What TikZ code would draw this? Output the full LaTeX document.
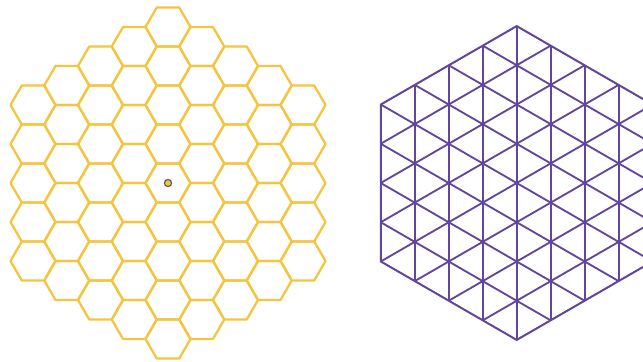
\documentclass[tikz,border=0pt]{standalone}
\usepackage{xcolor}
\usepackage{tikz}

\definecolor{honey}{RGB}{245,196,64}
\definecolor{grape}{RGB}{98,70,158}

\begin{document}
\begin{tikzpicture}[
    x=0.35mm, y=-0.35mm,
    hexcell/.style={draw=honey, line width=0.8mm, line join=round},
    trigrid/.style={draw=grape, line width=0.65mm},
    pivot/.style={circle, draw=black!65, fill=honey, line width=0.4mm,
                  inner sep=0pt, minimum size=2.5mm},
]
  \useasboundingbox (0,0) rectangle (643,362);
  \clip (0,0) rectangle (643,362);

  % honeycomb, flat-top cells, 4 rings round the middle
  \foreach \q in {-4,...,4} {
    \pgfmathtruncatemacro{\rlo}{max(-4,-\q-4)}
    \pgfmathtruncatemacro{\rhi}{min(4,-\q+4)}
    \foreach \r in {\rlo,...,\rhi} {
      \draw[hexcell] (168+33.75*\q, 183+39*\r+19.5*\q)
        +(0:22.5) -- +(60:22.5) -- +(120:22.5) -- +(180:22.5)
        -- +(240:22.5) -- +(300:22.5) -- cycle;
    }
  }
  \node[pivot] (hub) at (168,183) {};

  % triangular grid inside a pointy-top hexagon
  \coordinate (mid) at (516.7,183);
  \begin{scope}
    \clip (mid) +(90:157) -- +(150:157) -- +(210:157) -- +(270:157)
      -- +(330:157) -- +(30:157) -- cycle;
    \foreach \k in {-4,...,4}
      \draw[trigrid] ([xshift=\k*34*0.35mm]mid) ++(0,-170) -- ++(0,340);
    \foreach \j in {-8,...,8} {
      \draw[trigrid] ([yshift=-\j*39.25*0.35mm]mid) ++(-170,-98.15) -- ++(340,196.3);
      \draw[trigrid] ([yshift=-\j*39.25*0.35mm]mid) ++(-170,98.15) -- ++(340,-196.3);
    }
  \end{scope}
  \draw[trigrid, line join=round] (mid) +(90:157) -- +(150:157) -- +(210:157) -- +(270:157)
    -- +(330:157) -- +(30:157) -- cycle;
\end{tikzpicture}
\end{document}
